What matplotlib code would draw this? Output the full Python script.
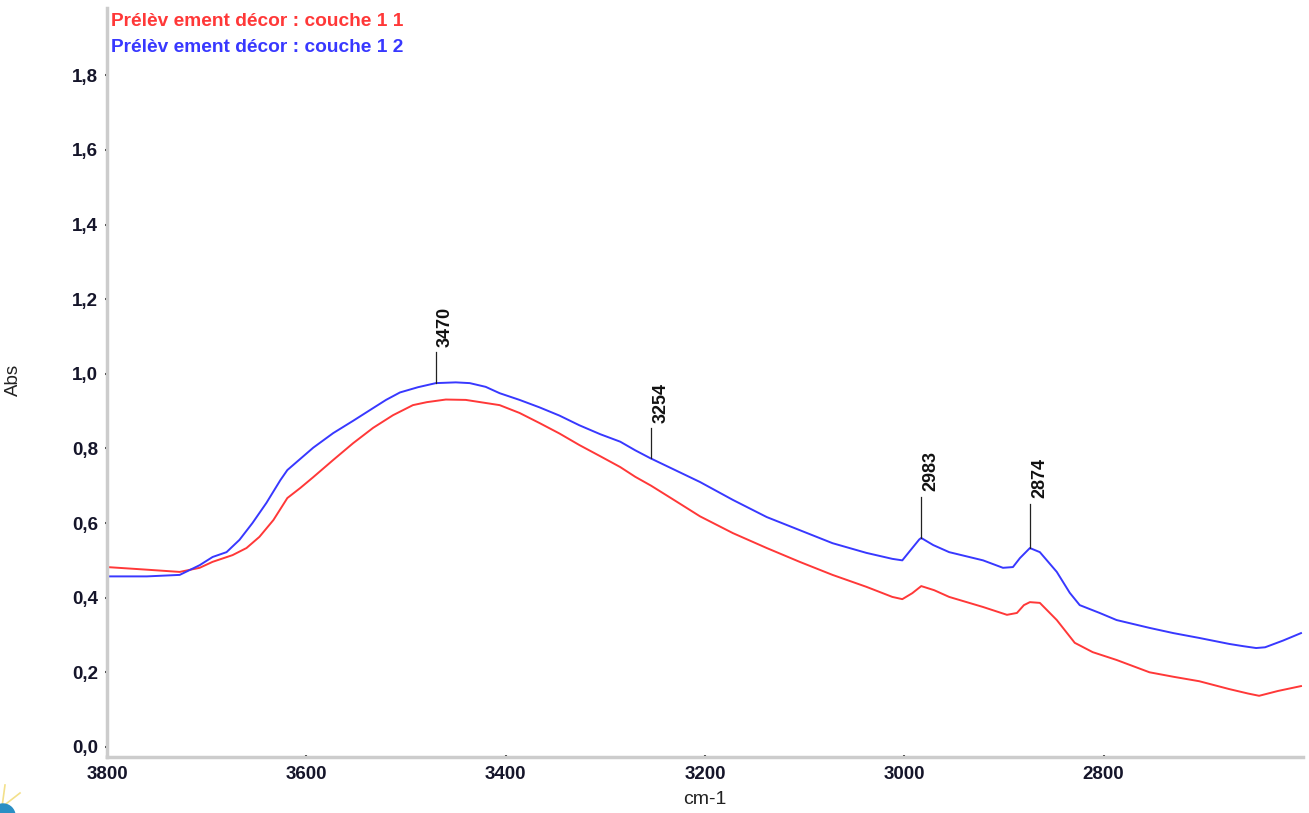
import matplotlib
matplotlib.use("Agg")
import matplotlib.pyplot as plt
from matplotlib.ticker import FuncFormatter, FixedLocator, MultipleLocator
from matplotlib.patches import Circle
from matplotlib.lines import Line2D

# wavenumbers (cm-1) and absorbance
wn_blue = [3800, 3760, 3727, 3707, 3694, 3680, 3667, 3654, 3640, 3626, 3619,
           3606, 3593, 3573, 3553, 3533, 3520, 3506, 3488, 3470, 3450, 3436,
           3420, 3406, 3386, 3366, 3346, 3326, 3305, 3285, 3270, 3255, 3230,
           3205, 3172, 3138, 3105, 3072, 3038, 3012, 3002, 2992, 2985, 2983,
           2971, 2955, 2921, 2901, 2891, 2884, 2874, 2864, 2847, 2834, 2824,
           2804, 2787, 2754, 2730, 2704, 2674, 2660, 2647, 2638, 2620, 2602]
abs_blue = [0.457, 0.457, 0.461, 0.487, 0.509, 0.522, 0.555, 0.600, 0.654,
            0.715, 0.742, 0.772, 0.802, 0.841, 0.874, 0.908, 0.930, 0.950,
            0.964, 0.975, 0.977, 0.975, 0.965, 0.948, 0.930, 0.910, 0.888,
            0.862, 0.838, 0.818, 0.795, 0.774, 0.742, 0.710, 0.662, 0.616,
            0.581, 0.546, 0.520, 0.504, 0.500, 0.533, 0.556, 0.560, 0.541,
            0.522, 0.500, 0.480, 0.482, 0.506, 0.533, 0.522, 0.469, 0.413,
            0.380, 0.359, 0.340, 0.319, 0.305, 0.292, 0.276, 0.270, 0.265,
            0.267, 0.285, 0.305]

wn_red = [3800, 3760, 3727, 3707, 3694, 3674, 3660, 3647, 3633, 3619, 3606,
          3593, 3573, 3553, 3533, 3513, 3493, 3479, 3460, 3440, 3406, 3386,
          3366, 3346, 3326, 3305, 3285, 3270, 3254, 3230, 3205, 3172, 3138,
          3105, 3072, 3038, 3012, 3002, 2992, 2983, 2970, 2955, 2921, 2897,
          2887, 2880, 2874, 2864, 2847, 2829, 2811, 2787, 2754, 2730, 2704,
          2674, 2655, 2644, 2625, 2602]
abs_red = [0.482, 0.475, 0.469, 0.480, 0.496, 0.514, 0.533, 0.563, 0.608,
           0.667, 0.694, 0.723, 0.769, 0.814, 0.855, 0.889, 0.916, 0.924,
           0.931, 0.930, 0.916, 0.895, 0.868, 0.840, 0.809, 0.779, 0.750,
           0.724, 0.700, 0.660, 0.618, 0.573, 0.533, 0.496, 0.461, 0.429,
           0.402, 0.396, 0.412, 0.431, 0.420, 0.402, 0.375, 0.354, 0.359,
           0.380, 0.388, 0.386, 0.340, 0.279, 0.254, 0.233, 0.200, 0.188,
           0.176, 0.155, 0.143, 0.137, 0.150, 0.163]

# peak labels: wavenumber, absorbance at base, line length (abs units)
peaks = [3470, 3254, 2983, 2874]
peak_base = [0.975, 0.774, 0.560, 0.533]
peak_len = [0.083, 0.080, 0.110, 0.118]

x_ticks = [3800, 3600, 3400, 3200, 3000, 2800]
labels = ["Prélèv ement décor : couche 1 1", "Prélèv ement décor : couche 1 2"]
RED = "#ff3838"
BLUE = "#3838ff"
SPINE = "#cccccc"
TICK_TXT = "#15152a"

plt.rcParams["font.family"] = ["Liberation Sans", "DejaVu Sans"]

fig = plt.figure(figsize=(13.09, 8.13), dpi=100)
ax = fig.add_axes([0.0817, 0.0689, 0.9137, 0.9211])

ax.plot(wn_red, abs_red, color=RED, lw=1.4)
ax.plot(wn_blue, abs_blue, color=BLUE, lw=1.4)

for wn, base, ln in zip(peaks, peak_base, peak_len):
    ax.plot([wn, wn], [base, base + ln], color="#222222", lw=0.9)
    ax.annotate(str(wn), xy=(wn, base + ln), xytext=(7, 4),
                textcoords="offset points", rotation=90, ha="center",
                va="bottom", fontsize=13, fontweight="bold", color="#111111")

ax.set_xlim(3800, 2600)
ax.set_ylim(-0.027, 1.98)
ax.xaxis.set_major_locator(FixedLocator(x_ticks))
ax.yaxis.set_major_locator(MultipleLocator(0.2))
ax.yaxis.set_major_formatter(FuncFormatter(lambda v, p: f"{v:.1f}".replace(".", ",")))
ax.xaxis.set_major_formatter(FuncFormatter(lambda v, p: f"{v:.0f}"))

for s in ["top", "right"]:
    ax.spines[s].set_visible(False)
for s in ["left", "bottom"]:
    ax.spines[s].set_color(SPINE)
    ax.spines[s].set_linewidth(2.5)

ax.tick_params(length=2.5, width=1.5, color="#333333", direction="inout",
               labelsize=13.5, labelcolor=TICK_TXT, pad=5)
for t in ax.get_xticklabels() + ax.get_yticklabels():
    t.set_fontweight("bold")

ax.set_xlabel("cm-1", fontsize=14, color="#222222")
ax.xaxis.set_label_coords(0.5, -0.045)
ax.set_ylabel("Abs", fontsize=13.5, color="#222222")
ax.yaxis.set_label_coords(-0.071, 0.503)

ax.text(0.003, 0.993, labels[0], transform=ax.transAxes, color=RED,
        fontsize=13.8, fontweight="bold", va="top", ha="left")
ax.text(0.003, 0.959, labels[1], transform=ax.transAxes, color=BLUE,
        fontsize=13.8, fontweight="bold", va="top", ha="left")

# clipped logo fragment in the lower-left corner
fig.patches.append(Circle((0.03, -0.03), 0.12, transform=fig.dpi_scale_trans,
                          color="#2a8fc4", zorder=5))
for x1, y1 in [(0.05, 0.28), (0.2, 0.2)]:
    fig.lines.append(Line2D([0.02, x1], [0.06, y1], transform=fig.dpi_scale_trans,
                            color="#f3e08a", lw=1.2))

fig.savefig("out.png", dpi=100)
